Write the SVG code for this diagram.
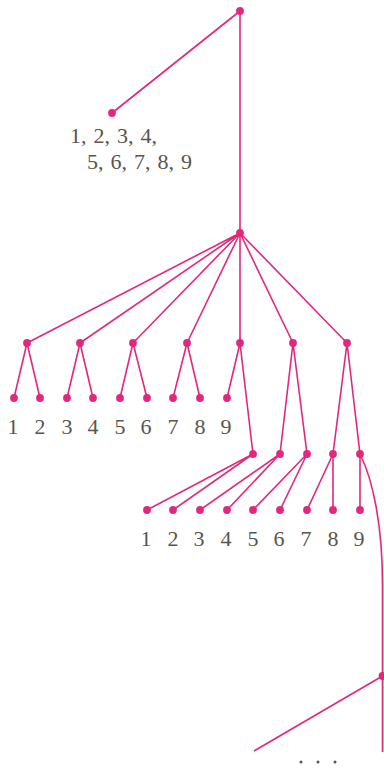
<svg xmlns="http://www.w3.org/2000/svg" width="384" height="768" viewBox="0 0 384 768">
<style>
.e{stroke:#e2287c;stroke-width:1.6;fill:none}
.n{fill:#e2287c}
text{font-family:"Liberation Serif",serif;font-size:22px;fill:#58544f}
.s{word-spacing:1.5px}
.l{text-anchor:middle}
</style>
<rect width="384" height="768" fill="#fff"/>
<g id="edges">
<path class="e" d="M240,11L112,113M240,11L240,233"/>
<path class="e" d="M240,233L27,343M240,233L80,343M240,233L133,343M240,233L187,343M240,233L240,343M240,233L293,343M240,233L347,343"/>
<path class="e" d="M27,343L14,398M27,343L40,398M80,343L67,398M80,343L93,398M133,343L120,398M133,343L147,398M187,343L173,398M187,343L200,398M240,343L227,398M240,343L253,454"/>
<path class="e" d="M293,343L280,454M293,343L307,454M347,343L333,454M347,343L360,454"/>
<path class="e" d="M253,454L147,510M253,454L173,510M280,454L200,510M280,454L227,510M307,454L253,510M307,454L280,510M333,454L307,510M333,454L333,510M360,454L360,510"/>
<path class="e" d="M360,454C373,480 382.5,525 382.5,585L382.5,752M382.5,676L254,751"/>
</g>
<g id="n0"><circle class="n" cx="240" cy="11" r="3.9"/></g>
<g id="n1"><circle class="n" cx="112" cy="113" r="3.9"/><text class="s" x="70" y="143">1, 2, 3, 4,</text><text class="s" x="87" y="169">5, 6, 7, 8, 9</text></g>
<g id="n2"><circle class="n" cx="240" cy="233" r="3.9"/></g>
<g id="level2">
<circle class="n" cx="27" cy="343" r="3.9"/><circle class="n" cx="80" cy="343" r="3.9"/><circle class="n" cx="133" cy="343" r="3.9"/><circle class="n" cx="187" cy="343" r="3.9"/><circle class="n" cx="240" cy="343" r="3.9"/><circle class="n" cx="293" cy="343" r="3.9"/><circle class="n" cx="347" cy="343" r="3.9"/>
</g>
<g id="leaves1">
<circle class="n" cx="14" cy="398" r="3.9"/><circle class="n" cx="40" cy="398" r="3.9"/><circle class="n" cx="67" cy="398" r="3.9"/><circle class="n" cx="93" cy="398" r="3.9"/><circle class="n" cx="120" cy="398" r="3.9"/><circle class="n" cx="147" cy="398" r="3.9"/><circle class="n" cx="173" cy="398" r="3.9"/><circle class="n" cx="200" cy="398" r="3.9"/><circle class="n" cx="227" cy="398" r="3.9"/>
<text class="l" x="13" y="434">1</text><text class="l" x="40" y="434">2</text><text class="l" x="67" y="434">3</text><text class="l" x="93" y="434">4</text><text class="l" x="120" y="434">5</text><text class="l" x="146" y="434">6</text><text class="l" x="173" y="434">7</text><text class="l" x="200" y="434">8</text><text class="l" x="226" y="434">9</text>
</g>
<g id="level3">
<circle class="n" cx="253" cy="454" r="3.9"/><circle class="n" cx="280" cy="454" r="3.9"/><circle class="n" cx="307" cy="454" r="3.9"/><circle class="n" cx="333" cy="454" r="3.9"/><circle class="n" cx="360" cy="454" r="3.9"/>
</g>
<g id="leaves2">
<circle class="n" cx="147" cy="510" r="3.9"/><circle class="n" cx="173" cy="510" r="3.9"/><circle class="n" cx="200" cy="510" r="3.9"/><circle class="n" cx="227" cy="510" r="3.9"/><circle class="n" cx="253" cy="510" r="3.9"/><circle class="n" cx="280" cy="510" r="3.9"/><circle class="n" cx="307" cy="510" r="3.9"/><circle class="n" cx="333" cy="510" r="3.9"/><circle class="n" cx="360" cy="510" r="3.9"/>
<text class="l" x="146" y="546">1</text><text class="l" x="173" y="546">2</text><text class="l" x="199" y="546">3</text><text class="l" x="226" y="546">4</text><text class="l" x="253" y="546">5</text><text class="l" x="279" y="546">6</text><text class="l" x="306" y="546">7</text><text class="l" x="333" y="546">8</text><text class="l" x="359" y="546">9</text>
</g>
<g id="n3"><circle class="n" cx="382.5" cy="676" r="3.9"/></g>
<g id="dots"><circle cx="301" cy="762" r="1.5" fill="#58544f"/><circle cx="318" cy="762" r="1.5" fill="#58544f"/><circle cx="335" cy="762" r="1.5" fill="#58544f"/></g>
</svg>
